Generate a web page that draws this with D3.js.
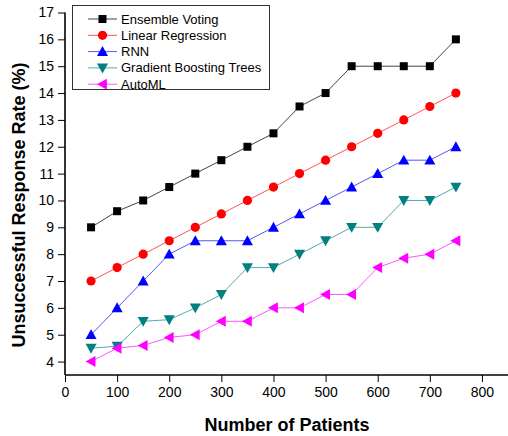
<!DOCTYPE html>
<html>
<head>
<meta charset="utf-8">
<script src="https://cdn.jsdelivr.net/npm/d3@7"></script>
<style>
body { margin: 0; background: #fff; }
text { font-family: Arial, "Liberation Sans", sans-serif; }
</style>
</head>
<body>
<div id="canvas"></div>
<script>
"use strict"
let svgWidth = 508;
let svgHeight = 436;

// data
let patients = [50, 100, 150, 200, 250, 300, 350, 400, 450, 500, 550, 600, 650, 700, 750];
let ensembleVoting = [9, 9.6, 10, 10.5, 11, 11.5, 12, 12.5, 13.5, 14, 15, 15, 15, 15, 16];
let linearRegression = [7, 7.5, 8, 8.5, 9, 9.5, 10, 10.5, 11, 11.5, 12, 12.5, 13, 13.5, 14];
let rnn = [5, 6, 7, 8, 8.5, 8.5, 8.5, 9, 9.5, 10, 10.5, 11, 11.5, 11.5, 12];
let gradientBoosting = [4.5, 4.57, 5.5, 5.56, 6, 6.5, 7.5, 7.5, 8, 8.5, 9, 9, 10, 10, 10.5];
let autoML = [4, 4.5, 4.6, 4.9, 5, 5.5, 5.5, 6, 6, 6.5, 6.5, 7.5, 7.85, 8, 8.5];
let seriesNames = ["Ensemble Voting", "Linear Regression", "RNN", "Gradient Boosting Trees", "AutoML"];
let xTicks = [0, 100, 200, 300, 400, 500, 600, 700, 800];
let yTicks = [4, 5, 6, 7, 8, 9, 10, 11, 12, 13, 14, 15, 16, 17];

let series = [
    { name: seriesNames[0], values: ensembleVoting, color: "#000000", line: "#444444", symbol: "square" },
    { name: seriesNames[1], values: linearRegression, color: "#ff0000", line: "#ff5555", symbol: "circle" },
    { name: seriesNames[2], values: rnn, color: "#0000ff", line: "#5555ff", symbol: "up" },
    { name: seriesNames[3], values: gradientBoosting, color: "#008080", line: "#55aaaa", symbol: "down" },
    { name: seriesNames[4], values: autoML, color: "#ff00ff", line: "#ff55ff", symbol: "left" }
];

let svg = d3.select("#canvas")
    .append("svg")
    .attr("width", svgWidth)
    .attr("height", svgHeight);

svg.append("rect")
    .attr("width", svgWidth)
    .attr("height", svgHeight)
    .attr("fill", "#ffffff");

let xScale = d3.scaleLinear().domain([0, 850]).range([65, 508]);
let yScale = d3.scaleLinear().domain([3.5, 17]).range([375, 12.5]);

// axes with minor ticks
let xMinor = d3.range(0, 851, 50);
let yMinor = d3.range(3.5, 17.01, 0.5);

let xAxisG = svg.append("g").attr("transform", "translate(0," + yScale(3.5) + ")");
xAxisG.call(d3.axisBottom(xScale).tickValues(xMinor).tickSize(4).tickFormat(""));
xAxisG.call(d3.axisBottom(xScale).tickValues(xTicks).tickSize(7).tickPadding(5));
xAxisG.selectAll("text").style("font-size", "14px").attr("fill", "#000");

let yAxisG = svg.append("g").attr("transform", "translate(" + xScale(0) + ",0)");
yAxisG.call(d3.axisLeft(yScale).tickValues(yMinor).tickSize(4).tickFormat(""));
yAxisG.call(d3.axisLeft(yScale).tickValues(yTicks).tickSize(7).tickPadding(4));
yAxisG.selectAll("text").style("font-size", "14px").attr("fill", "#000");

// draw domains as plain lines without end caps
svg.selectAll(".domain").remove();
svg.append("line")
    .attr("x1", xScale(0)).attr("x2", xScale(850))
    .attr("y1", yScale(3.5)).attr("y2", yScale(3.5))
    .attr("stroke", "#000").attr("stroke-width", 1.6);
svg.append("line")
    .attr("x1", xScale(0)).attr("x2", xScale(0))
    .attr("y1", yScale(3.5)).attr("y2", yScale(17))
    .attr("stroke", "#000").attr("stroke-width", 1.6);

// axis titles
svg.append("text")
    .attr("x", 287)
    .attr("y", 431)
    .attr("text-anchor", "middle")
    .style("font-size", "18px")
    .style("font-weight", "bold")
    .text("Number of Patients");

svg.append("text")
    .attr("transform", "translate(25,205) rotate(-90)")
    .attr("text-anchor", "middle")
    .style("font-size", "18px")
    .style("font-weight", "bold")
    .text("Unsuccessful Response Rate (%)");

// marker shapes
function drawMarker(g, symbol, color, cx, cy) {
    if (symbol == "square") {
        g.append("rect").attr("x", cx - 4).attr("y", cy - 4).attr("width", 8).attr("height", 8).attr("fill", color);
    } else if (symbol == "circle") {
        g.append("circle").attr("cx", cx).attr("cy", cy).attr("r", 4.6).attr("fill", color);
    } else {
        let s = 5.5;
        let pts;
        if (symbol == "up") pts = [[cx, cy - s], [cx + s, cy + s * 0.8], [cx - s, cy + s * 0.8]];
        else if (symbol == "down") pts = [[cx, cy + s], [cx + s, cy - s * 0.8], [cx - s, cy - s * 0.8]];
        else pts = [[cx - s, cy], [cx + s * 0.8, cy - s], [cx + s * 0.8, cy + s]];
        g.append("polygon").attr("points", pts.map(function (p) { return p.join(","); }).join(" ")).attr("fill", color);
    }
}

let line = d3.line()
    .x(function (d) { return xScale(d.x); })
    .y(function (d) { return yScale(d.y); });

series.forEach(function (s) {
    let pts = patients.map(function (p, i) { return { x: p, y: s.values[i] }; });
    let g = svg.append("g");
    g.append("path")
        .attr("d", line(pts))
        .attr("fill", "none")
        .attr("stroke", s.line)
        .attr("stroke-width", 1);
    pts.forEach(function (d) {
        drawMarker(g, s.symbol, s.color, xScale(d.x), yScale(d.y));
    });
});

// legend
let legend = svg.append("g");
legend.append("rect")
    .attr("x", 72.5).attr("y", 5.5)
    .attr("width", 197).attr("height", 84)
    .attr("fill", "#fff")
    .attr("stroke", "#333").attr("stroke-width", 1);

series.forEach(function (s, i) {
    let ly = 19 + i * 16.3;
    legend.append("line")
        .attr("x1", 88).attr("x2", 117)
        .attr("y1", ly).attr("y2", ly)
        .attr("stroke", s.line).attr("stroke-width", 1);
    drawMarker(legend, s.symbol, s.color, 102.5, ly);
    legend.append("text")
        .attr("x", 121)
        .attr("y", ly + 4.5)
        .style("font-size", "13px")
        .text(s.name);
});
</script>
</body>
</html>
